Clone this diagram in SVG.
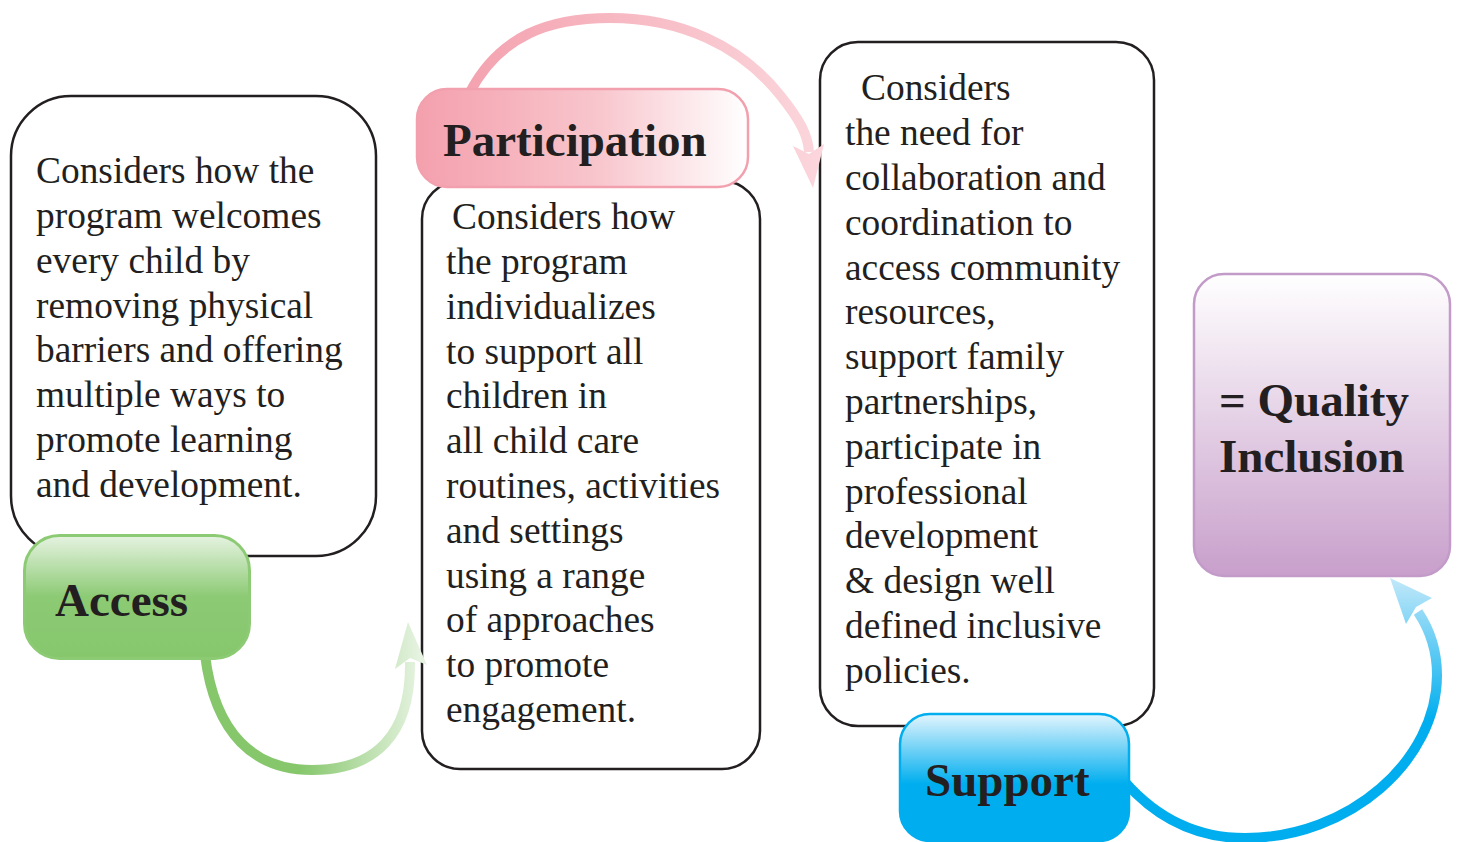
<svg xmlns="http://www.w3.org/2000/svg" width="1457" height="842" viewBox="0 0 1457 842">
<style>
.box{fill:none;stroke:#231f20;stroke-width:2.5}
.body{font-family:"Liberation Serif",serif;font-size:37.4px;fill:#231f20}
.lbl{font-family:"Liberation Serif",serif;font-size:47px;font-weight:bold;fill:#231f20}
.arr{fill:none;stroke-width:10;stroke-linecap:butt}
</style>
<defs>
<linearGradient id="gAccess" x1="0" y1="0" x2="0" y2="1"><stop offset="0" stop-color="#e6f3e1"/><stop offset="0.5" stop-color="#8cca74"/><stop offset="1" stop-color="#86c76c"/></linearGradient>
<linearGradient id="gPart" x1="0" y1="0" x2="1" y2="0"><stop offset="0" stop-color="#f4a0ad"/><stop offset="0.55" stop-color="#f8c6cd"/><stop offset="1" stop-color="#ffffff"/></linearGradient>
<linearGradient id="gSup" x1="0" y1="0" x2="0" y2="1"><stop offset="0" stop-color="#e3f5fd"/><stop offset="0.55" stop-color="#00aeef"/><stop offset="1" stop-color="#00aeef"/></linearGradient>
<linearGradient id="gQual" x1="0" y1="0" x2="0" y2="1"><stop offset="0" stop-color="#ffffff"/><stop offset="1" stop-color="#c89fcb"/></linearGradient>
<linearGradient id="aG" gradientUnits="userSpaceOnUse" x1="300" y1="0" x2="420" y2="0"><stop offset="0" stop-color="#86c76c"/><stop offset="1" stop-color="#e6f3e1"/></linearGradient>
<linearGradient id="aP" gradientUnits="userSpaceOnUse" x1="470" y1="0" x2="820" y2="0"><stop offset="0" stop-color="#f4a3b0"/><stop offset="1" stop-color="#fbd6dc"/></linearGradient>
<linearGradient id="aB" gradientUnits="userSpaceOnUse" x1="0" y1="720" x2="0" y2="578"><stop offset="0" stop-color="#00aeef"/><stop offset="1" stop-color="#c2e8f9"/></linearGradient>
</defs>

<g id="box-access-text">
<rect class="box" x="11" y="96" width="365" height="460" rx="60"/>
<text class="body"><tspan x="36" y="183">Considers how the</tspan><tspan x="36" y="228">program welcomes</tspan><tspan x="36" y="273">every child by</tspan><tspan x="36" y="318">removing physical</tspan><tspan x="36" y="362">barriers and offering</tspan><tspan x="36" y="407">multiple ways to</tspan><tspan x="36" y="452">promote learning</tspan><tspan x="36" y="497">and development.</tspan></text>
</g>
<g id="box-participation-text">
<rect class="box" x="422" y="181" width="338" height="588" rx="38"/>
<text class="body"><tspan x="452" y="229">Considers how</tspan><tspan x="446" y="274">the program</tspan><tspan x="446" y="319">individualizes</tspan><tspan x="446" y="364">to support all</tspan><tspan x="446" y="408">children in</tspan><tspan x="446" y="453">all child care</tspan><tspan x="446" y="498">routines, activities</tspan><tspan x="446" y="543">and settings</tspan><tspan x="446" y="588">using a range</tspan><tspan x="446" y="632">of approaches</tspan><tspan x="446" y="677">to promote</tspan><tspan x="446" y="722">engagement.</tspan></text>
</g>
<g id="box-support-text">
<rect class="box" x="820" y="42" width="334" height="684" rx="38"/>
<text class="body"><tspan x="861" y="100">Considers</tspan><tspan x="845" y="145">the need for</tspan><tspan x="845" y="190">collaboration and</tspan><tspan x="845" y="235">coordination to</tspan><tspan x="845" y="280">access community</tspan><tspan x="845" y="324">resources,</tspan><tspan x="845" y="369">support family</tspan><tspan x="845" y="414">partnerships,</tspan><tspan x="845" y="459">participate in</tspan><tspan x="845" y="504">professional</tspan><tspan x="845" y="548">development</tspan><tspan x="845" y="593">&amp; design well</tspan><tspan x="845" y="638">defined inclusive</tspan><tspan x="845" y="683">policies.</tspan></text>
</g>

<g id="connectors">
<path class="arr" stroke="url(#aG)" d="M205,655 C215,735 255,770 312,770 C375,770 411,735 410,662"/>
<polygon fill="url(#aG)" points="408,622 427,665 410,658 395,669"/>
<path class="arr" stroke="url(#aP)" d="M470,92 C500,35 550,18 610,18 C680,18 740,45 780,95 C800,120 808,135 809,152"/>
<polygon fill="url(#aP)" points="813,188 793,146 809,154 824,144"/>
<path class="arr" stroke="url(#aB)" d="M1125,782 C1162,824 1205,838 1245,838 C1350,838 1437,760 1437,675 C1437,650 1430,630 1418,612"/>
<polygon fill="url(#aB)" points="1390,578 1432,598 1416,607 1406,624"/>
</g>

<g id="label-access">
<rect x="24.5" y="535.5" width="225" height="123" rx="35" fill="url(#gAccess)" stroke="#8ccb74" stroke-width="3"/>
<text class="lbl" x="55" y="616">Access</text>
</g>
<g id="label-participation">
<rect x="417" y="89" width="331" height="98" rx="30" fill="url(#gPart)" stroke="#f3a0ae" stroke-width="2.5"/>
<text class="lbl" x="443" y="156">Participation</text>
</g>
<g id="label-support">
<rect x="900" y="714" width="229" height="127" rx="30" fill="url(#gSup)" stroke="#00aeef" stroke-width="2.5"/>
<text class="lbl" x="925" y="796">Support</text>
</g>
<g id="label-quality">
<rect x="1194" y="274" width="256" height="302" rx="30" fill="url(#gQual)" stroke="#c39bc9" stroke-width="2.5"/>
<text class="lbl"><tspan x="1219" y="416">= Quality</tspan><tspan x="1219" y="472">Inclusion</tspan></text>
</g>
</svg>
